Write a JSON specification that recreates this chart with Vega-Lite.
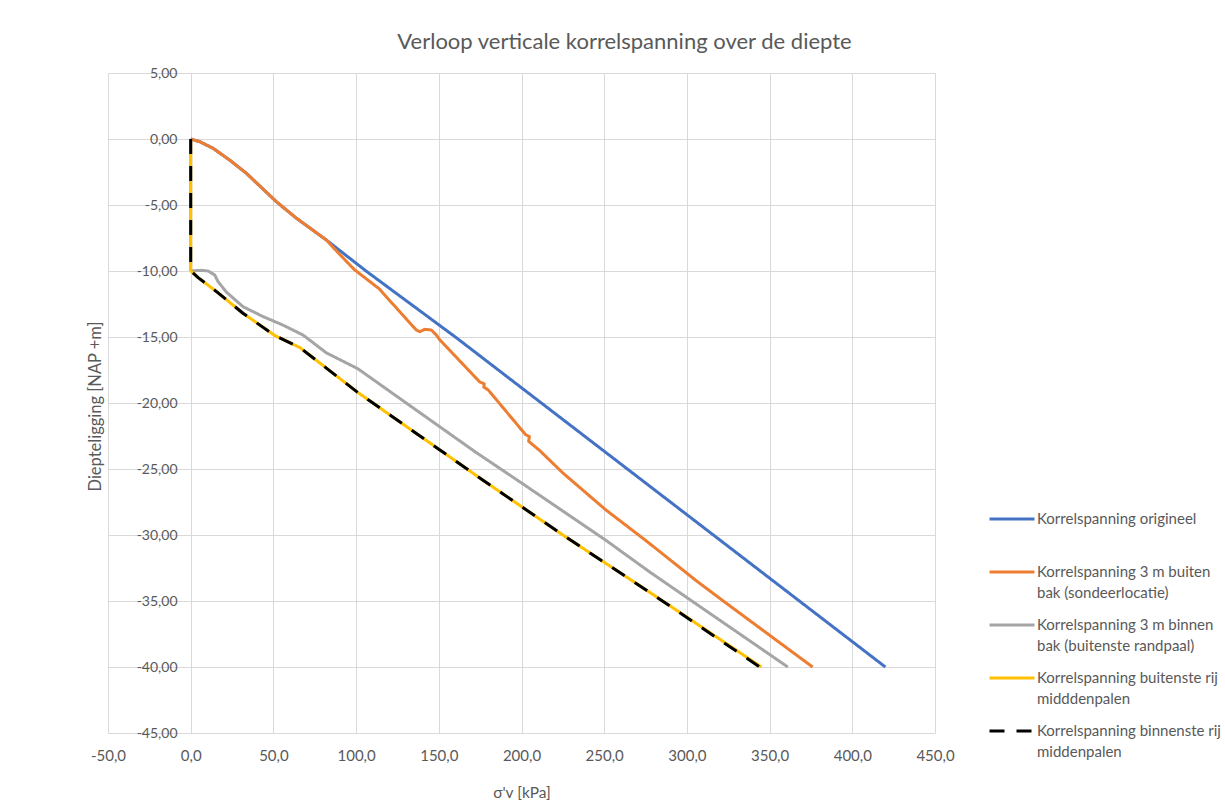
{
  "$schema": "https://vega.github.io/schema/vega-lite/v6.json",
  "width": 827,
  "height": 660,
  "autosize": {"type": "none"},
  "padding": {"left": 108, "top": 73, "right": 290, "bottom": 74},
  "background": "white",
  "title": {
    "text": "Verloop verticale korrelspanning over de diepte",
    "font": "Lato",
    "fontSize": 22,
    "fontWeight": "normal",
    "color": "#595959",
    "anchor": "middle",
    "frame": "group",
    "dx": 103,
    "baseline": "bottom",
    "offset": -10
  },
  "data": {
    "values": [
      {"serie": "Korrelspanning origineel", "volgorde": 1, "sigma": 0, "diepte": 0},
      {"serie": "Korrelspanning origineel", "volgorde": 2, "sigma": 5.4, "diepte": -0.2},
      {"serie": "Korrelspanning origineel", "volgorde": 3, "sigma": 13.5, "diepte": -0.7},
      {"serie": "Korrelspanning origineel", "volgorde": 4, "sigma": 23.6, "diepte": -1.6},
      {"serie": "Korrelspanning origineel", "volgorde": 5, "sigma": 33.7, "diepte": -2.6},
      {"serie": "Korrelspanning origineel", "volgorde": 6, "sigma": 51.8, "diepte": -4.75},
      {"serie": "Korrelspanning origineel", "volgorde": 7, "sigma": 63.9, "diepte": -6.0},
      {"serie": "Korrelspanning origineel", "volgorde": 8, "sigma": 82, "diepte": -7.65},
      {"serie": "Korrelspanning origineel", "volgorde": 9, "sigma": 106, "diepte": -10},
      {"serie": "Korrelspanning origineel", "volgorde": 10, "sigma": 160, "diepte": -15},
      {"serie": "Korrelspanning origineel", "volgorde": 11, "sigma": 212, "diepte": -20},
      {"serie": "Korrelspanning origineel", "volgorde": 12, "sigma": 264, "diepte": -25},
      {"serie": "Korrelspanning origineel", "volgorde": 13, "sigma": 316, "diepte": -30},
      {"serie": "Korrelspanning origineel", "volgorde": 14, "sigma": 368, "diepte": -35},
      {"serie": "Korrelspanning origineel", "volgorde": 15, "sigma": 420, "diepte": -40},

      {"serie": "Korrelspanning 3 m buiten bak (sondeerlocatie)", "volgorde": 1, "sigma": 0, "diepte": 0},
      {"serie": "Korrelspanning 3 m buiten bak (sondeerlocatie)", "volgorde": 2, "sigma": 5.4, "diepte": -0.2},
      {"serie": "Korrelspanning 3 m buiten bak (sondeerlocatie)", "volgorde": 3, "sigma": 13.5, "diepte": -0.7},
      {"serie": "Korrelspanning 3 m buiten bak (sondeerlocatie)", "volgorde": 4, "sigma": 23.6, "diepte": -1.6},
      {"serie": "Korrelspanning 3 m buiten bak (sondeerlocatie)", "volgorde": 5, "sigma": 33.7, "diepte": -2.6},
      {"serie": "Korrelspanning 3 m buiten bak (sondeerlocatie)", "volgorde": 6, "sigma": 51.8, "diepte": -4.75},
      {"serie": "Korrelspanning 3 m buiten bak (sondeerlocatie)", "volgorde": 7, "sigma": 63.9, "diepte": -6.0},
      {"serie": "Korrelspanning 3 m buiten bak (sondeerlocatie)", "volgorde": 8, "sigma": 82, "diepte": -7.65},
      {"serie": "Korrelspanning 3 m buiten bak (sondeerlocatie)", "volgorde": 9, "sigma": 89, "diepte": -8.6},
      {"serie": "Korrelspanning 3 m buiten bak (sondeerlocatie)", "volgorde": 10, "sigma": 99, "diepte": -9.9},
      {"serie": "Korrelspanning 3 m buiten bak (sondeerlocatie)", "volgorde": 11, "sigma": 114, "diepte": -11.35},
      {"serie": "Korrelspanning 3 m buiten bak (sondeerlocatie)", "volgorde": 12, "sigma": 125.4, "diepte": -12.95},
      {"serie": "Korrelspanning 3 m buiten bak (sondeerlocatie)", "volgorde": 13, "sigma": 136.4, "diepte": -14.47},
      {"serie": "Korrelspanning 3 m buiten bak (sondeerlocatie)", "volgorde": 14, "sigma": 138.5, "diepte": -14.6},
      {"serie": "Korrelspanning 3 m buiten bak (sondeerlocatie)", "volgorde": 15, "sigma": 141.5, "diepte": -14.42},
      {"serie": "Korrelspanning 3 m buiten bak (sondeerlocatie)", "volgorde": 16, "sigma": 145.5, "diepte": -14.47},
      {"serie": "Korrelspanning 3 m buiten bak (sondeerlocatie)", "volgorde": 17, "sigma": 148.5, "diepte": -14.85},
      {"serie": "Korrelspanning 3 m buiten bak (sondeerlocatie)", "volgorde": 18, "sigma": 150.5, "diepte": -15.2},
      {"serie": "Korrelspanning 3 m buiten bak (sondeerlocatie)", "volgorde": 19, "sigma": 174.7, "diepte": -18.4},
      {"serie": "Korrelspanning 3 m buiten bak (sondeerlocatie)", "volgorde": 20, "sigma": 177.5, "diepte": -18.55},
      {"serie": "Korrelspanning 3 m buiten bak (sondeerlocatie)", "volgorde": 21, "sigma": 177.2, "diepte": -18.8},
      {"serie": "Korrelspanning 3 m buiten bak (sondeerlocatie)", "volgorde": 22, "sigma": 179.8, "diepte": -19.0},
      {"serie": "Korrelspanning 3 m buiten bak (sondeerlocatie)", "volgorde": 23, "sigma": 202.5, "diepte": -22.4},
      {"serie": "Korrelspanning 3 m buiten bak (sondeerlocatie)", "volgorde": 24, "sigma": 204.8, "diepte": -22.55},
      {"serie": "Korrelspanning 3 m buiten bak (sondeerlocatie)", "volgorde": 25, "sigma": 204.3, "diepte": -22.9},
      {"serie": "Korrelspanning 3 m buiten bak (sondeerlocatie)", "volgorde": 26, "sigma": 211, "diepte": -23.6},
      {"serie": "Korrelspanning 3 m buiten bak (sondeerlocatie)", "volgorde": 27, "sigma": 225, "diepte": -25.3},
      {"serie": "Korrelspanning 3 m buiten bak (sondeerlocatie)", "volgorde": 28, "sigma": 251, "diepte": -28.1},
      {"serie": "Korrelspanning 3 m buiten bak (sondeerlocatie)", "volgorde": 29, "sigma": 276, "diepte": -30.5},
      {"serie": "Korrelspanning 3 m buiten bak (sondeerlocatie)", "volgorde": 30, "sigma": 305, "diepte": -33.4},
      {"serie": "Korrelspanning 3 m buiten bak (sondeerlocatie)", "volgorde": 31, "sigma": 322, "diepte": -35},
      {"serie": "Korrelspanning 3 m buiten bak (sondeerlocatie)", "volgorde": 32, "sigma": 376, "diepte": -40},

      {"serie": "Korrelspanning 3 m binnen bak (buitenste randpaal)", "volgorde": 1, "sigma": 0, "diepte": 0},
      {"serie": "Korrelspanning 3 m binnen bak (buitenste randpaal)", "volgorde": 2, "sigma": 0, "diepte": -10},
      {"serie": "Korrelspanning 3 m binnen bak (buitenste randpaal)", "volgorde": 3, "sigma": 6, "diepte": -9.95},
      {"serie": "Korrelspanning 3 m binnen bak (buitenste randpaal)", "volgorde": 4, "sigma": 10.5, "diepte": -10},
      {"serie": "Korrelspanning 3 m binnen bak (buitenste randpaal)", "volgorde": 5, "sigma": 14.5, "diepte": -10.3},
      {"serie": "Korrelspanning 3 m binnen bak (buitenste randpaal)", "volgorde": 6, "sigma": 16.5, "diepte": -10.8},
      {"serie": "Korrelspanning 3 m binnen bak (buitenste randpaal)", "volgorde": 7, "sigma": 21.6, "diepte": -11.6},
      {"serie": "Korrelspanning 3 m binnen bak (buitenste randpaal)", "volgorde": 8, "sigma": 31.6, "diepte": -12.7},
      {"serie": "Korrelspanning 3 m binnen bak (buitenste randpaal)", "volgorde": 9, "sigma": 43.7, "diepte": -13.45},
      {"serie": "Korrelspanning 3 m binnen bak (buitenste randpaal)", "volgorde": 10, "sigma": 55.8, "diepte": -14.1},
      {"serie": "Korrelspanning 3 m binnen bak (buitenste randpaal)", "volgorde": 11, "sigma": 67.9, "diepte": -14.85},
      {"serie": "Korrelspanning 3 m binnen bak (buitenste randpaal)", "volgorde": 12, "sigma": 82, "diepte": -16.2},
      {"serie": "Korrelspanning 3 m binnen bak (buitenste randpaal)", "volgorde": 13, "sigma": 101, "diepte": -17.4},
      {"serie": "Korrelspanning 3 m binnen bak (buitenste randpaal)", "volgorde": 14, "sigma": 172, "diepte": -23.7},
      {"serie": "Korrelspanning 3 m binnen bak (buitenste randpaal)", "volgorde": 15, "sigma": 200.5, "diepte": -26.1},
      {"serie": "Korrelspanning 3 m binnen bak (buitenste randpaal)", "volgorde": 16, "sigma": 251, "diepte": -30.4},
      {"serie": "Korrelspanning 3 m binnen bak (buitenste randpaal)", "volgorde": 17, "sigma": 277.5, "diepte": -32.8},
      {"serie": "Korrelspanning 3 m binnen bak (buitenste randpaal)", "volgorde": 18, "sigma": 303, "diepte": -35},
      {"serie": "Korrelspanning 3 m binnen bak (buitenste randpaal)", "volgorde": 19, "sigma": 361, "diepte": -40},

      {"serie": "Korrelspanning buitenste rij midddenpalen", "volgorde": 1, "sigma": 0, "diepte": 0},
      {"serie": "Korrelspanning buitenste rij midddenpalen", "volgorde": 2, "sigma": 0, "diepte": -10},
      {"serie": "Korrelspanning buitenste rij midddenpalen", "volgorde": 3, "sigma": 4.5, "diepte": -10.5},
      {"serie": "Korrelspanning buitenste rij midddenpalen", "volgorde": 4, "sigma": 16, "diepte": -11.6},
      {"serie": "Korrelspanning buitenste rij midddenpalen", "volgorde": 5, "sigma": 31.6, "diepte": -13.2},
      {"serie": "Korrelspanning buitenste rij midddenpalen", "volgorde": 6, "sigma": 51, "diepte": -14.9},
      {"serie": "Korrelspanning buitenste rij midddenpalen", "volgorde": 7, "sigma": 66, "diepte": -15.8},
      {"serie": "Korrelspanning buitenste rij midddenpalen", "volgorde": 8, "sigma": 101, "diepte": -19.2},
      {"serie": "Korrelspanning buitenste rij midddenpalen", "volgorde": 9, "sigma": 150, "diepte": -23.5},
      {"serie": "Korrelspanning buitenste rij midddenpalen", "volgorde": 10, "sigma": 175, "diepte": -25.7},
      {"serie": "Korrelspanning buitenste rij midddenpalen", "volgorde": 11, "sigma": 225, "diepte": -30.0},
      {"serie": "Korrelspanning buitenste rij midddenpalen", "volgorde": 12, "sigma": 277, "diepte": -34.3},
      {"serie": "Korrelspanning buitenste rij midddenpalen", "volgorde": 13, "sigma": 345, "diepte": -40},

      {"serie": "Korrelspanning binnenste rij middenpalen", "volgorde": 1, "sigma": 0, "diepte": 0},
      {"serie": "Korrelspanning binnenste rij middenpalen", "volgorde": 2, "sigma": 0, "diepte": -10},
      {"serie": "Korrelspanning binnenste rij middenpalen", "volgorde": 3, "sigma": 4.5, "diepte": -10.5},
      {"serie": "Korrelspanning binnenste rij middenpalen", "volgorde": 4, "sigma": 16, "diepte": -11.6},
      {"serie": "Korrelspanning binnenste rij middenpalen", "volgorde": 5, "sigma": 31.6, "diepte": -13.2},
      {"serie": "Korrelspanning binnenste rij middenpalen", "volgorde": 6, "sigma": 51, "diepte": -14.9},
      {"serie": "Korrelspanning binnenste rij middenpalen", "volgorde": 7, "sigma": 66, "diepte": -15.8},
      {"serie": "Korrelspanning binnenste rij middenpalen", "volgorde": 8, "sigma": 101, "diepte": -19.2},
      {"serie": "Korrelspanning binnenste rij middenpalen", "volgorde": 9, "sigma": 150, "diepte": -23.5},
      {"serie": "Korrelspanning binnenste rij middenpalen", "volgorde": 10, "sigma": 175, "diepte": -25.7},
      {"serie": "Korrelspanning binnenste rij middenpalen", "volgorde": 11, "sigma": 225, "diepte": -30.0},
      {"serie": "Korrelspanning binnenste rij middenpalen", "volgorde": 12, "sigma": 277, "diepte": -34.3},
      {"serie": "Korrelspanning binnenste rij middenpalen", "volgorde": 13, "sigma": 344, "diepte": -40}
    ]
  },
  "mark": {"type": "line", "strokeWidth": 3, "strokeCap": "butt", "strokeJoin": "round"},
  "encoding": {
    "x": {
      "field": "sigma",
      "type": "quantitative",
      "scale": {"domain": [-50, 450], "nice": false, "zero": false},
      "axis": {
        "title": "σ'v [kPa]",
        "values": [-50, 0, 50, 100, 150, 200, 250, 300, 350, 400, 450],
        "labelExpr": "replace(replace(format(datum.value, '.1f'), '.', ','), '−', '-')",
        "labelFontSize": 15,
        "labelPadding": 15,
        "titleFontSize": 15.5,
        "titlePadding": 22
      }
    },
    "y": {
      "field": "diepte",
      "type": "quantitative",
      "scale": {"domain": [-45, 5], "nice": false, "zero": false},
      "axis": {
        "title": "Diepteligging [NAP +m]",
        "values": [-45, -40, -35, -30, -25, -20, -15, -10, -5, 0, 5],
        "labelExpr": "replace(replace(format(datum.value, '.2f'), '.', ','), '−', '-')",
        "labelFontSize": 14,
        "offset": -83,
        "labelPadding": 14,
        "titleFontSize": 16.5,
        "titleX": -88,
        "titleY": 333,
        "titleAngle": 270,
        "titleAlign": "center",
        "titleBaseline": "bottom"
      }
    },
    "order": {"field": "volgorde", "type": "quantitative"},
    "color": {
      "field": "serie",
      "type": "nominal",
      "scale": {
        "domain": [
          "Korrelspanning origineel",
          "Korrelspanning 3 m buiten bak (sondeerlocatie)",
          "Korrelspanning 3 m binnen bak (buitenste randpaal)",
          "Korrelspanning buitenste rij midddenpalen",
          "Korrelspanning binnenste rij middenpalen"
        ],
        "range": ["#4472C4", "#ED7D31", "#A5A5A5", "#FFC000", "#000000"]
      },
      "legend": {
        "title": null,
        "orient": "none",
        "legendX": 880,
        "legendY": 422,
        "symbolType": "stroke",
        "symbolSize": 2025,
        "symbolStrokeWidth": 3,
        "labelBaseline": "middle",
        "labelFont": "Lato",
        "labelFontSize": 15,
        "labelColor": "#595959",
        "labelLimit": 300,
        "labelOffset": 1,
        "rowPadding": -7.5,
        "labelExpr": "datum.label == 'Korrelspanning origineel' ? ['Korrelspanning origineel', ' '] : datum.label == 'Korrelspanning 3 m buiten bak (sondeerlocatie)' ? ['Korrelspanning 3 m buiten', 'bak (sondeerlocatie)'] : datum.label == 'Korrelspanning 3 m binnen bak (buitenste randpaal)' ? ['Korrelspanning 3 m binnen', 'bak (buitenste randpaal)'] : datum.label == 'Korrelspanning buitenste rij midddenpalen' ? ['Korrelspanning buitenste rij', 'midddenpalen'] : ['Korrelspanning binnenste rij', 'middenpalen']"
      }
    },
    "strokeDash": {
      "field": "serie",
      "type": "nominal",
      "scale": {
        "domain": [
          "Korrelspanning origineel",
          "Korrelspanning 3 m buiten bak (sondeerlocatie)",
          "Korrelspanning 3 m binnen bak (buitenste randpaal)",
          "Korrelspanning buitenste rij midddenpalen",
          "Korrelspanning binnenste rij middenpalen"
        ],
        "range": [[1, 0], [1, 0], [1, 0], [1, 0], [15, 12]]
      },
      "legend": null
    }
  },
  "config": {
    "font": "Lato",
    "view": {"stroke": null},
    "style": {"guide-label": {"lineHeight": 21}},
    "axis": {
      "domain": false,
      "ticks": false,
      "grid": true,
      "gridColor": "#d9d9d9",
      "gridWidth": 1,
      "labelFlush": false,
      "labelOverlap": false,
      "labelFont": "Lato",
      "labelColor": "#595959",
      "titleFont": "Lato",
      "titleFontWeight": "normal",
      "titleColor": "#595959"
    }
  }
}
